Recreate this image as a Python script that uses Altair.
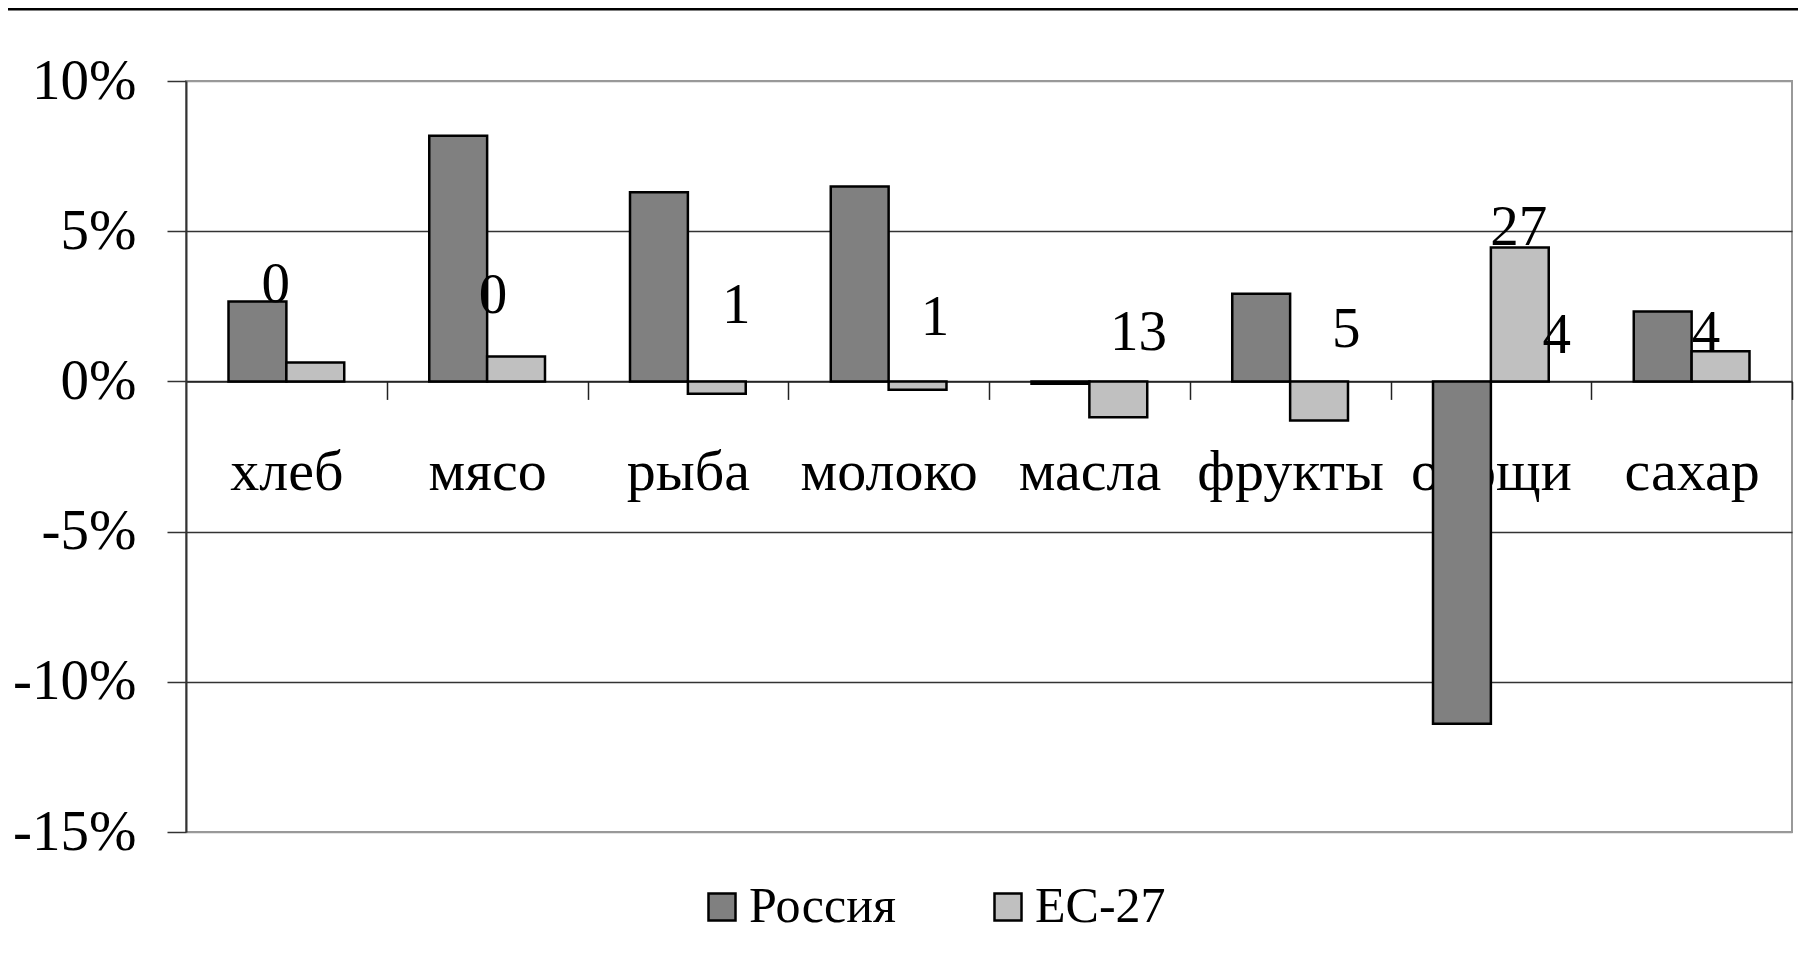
import altair as alt
import pandas as pd

# ---- data ----
categories = ["хлеб", "мясо", "рыба", "молоко", "масла", "фрукты", "овощи", "сахар"]
series = ["Россия", "ЕС-27"]
russia = [2.66, 8.18, 6.30, 6.49, -0.08, 2.92, -11.40, 2.33]
eu = [0.63, 0.83, -0.41, -0.28, -1.19, -1.30, 4.46, 1.00]

label_cats = ["хлеб", "мясо", "рыба", "молоко", "масла", "фрукты", "овощи", "овощи", "сахар"]
label_texts = ["0", "0", "1", "1", "13", "5", "27", "4", "4"]
label_y = [3.22, 2.85, 2.50, 2.11, 1.61, 1.72, 5.11, 1.50, 1.61]
label_shift = [-0.185, 0.10, 0.835, 0.80, 0.85, 0.97, 0.48, 1.14, 0.25]

y_ticks = [-15, -10, -5, 0, 5, 10]

# ---- tables ----
rows = []
for c, r, e in zip(categories, russia, eu):
    rows.append({"cat": c, "series": series[0], "value": r})
    rows.append({"cat": c, "series": series[1], "value": e})
bars_df = pd.DataFrame(rows)
labels_df = pd.DataFrame({"cat": label_cats, "label": label_texts,
                          "ypos": label_y, "shift": label_shift})

W, H = 1606, 751
FONT = "Liberation Serif"
STEP = W / len(categories)

x_scale = alt.Scale(domain=categories, paddingInner=0.4235, paddingOuter=0.21175)
y_scale = alt.Scale(domain=[-15, 10], nice=False, zero=False)

bars = alt.Chart(bars_df).mark_bar(stroke="black", strokeWidth=2.5, strokeJoin="miter").encode(
    x=alt.X("cat:N", scale=x_scale, sort=categories,
            axis=alt.Axis(title=None, orient="bottom", offset=-H * 15 / 25,
                          labelFont=FONT, labelFontSize=58, labelColor="black",
                          labelAngle=0, labelPadding=44, labelLimit=0, labelOverlap=False,
                          tickOffset=STEP / 2, labelOffset=-STEP / 2,
                          tickSize=18, tickColor="#222", tickWidth=1.5,
                          domainColor="#222", domainWidth=1.5, grid=False)),
    xOffset=alt.XOffset("series:N", sort=series,
                        scale=alt.Scale(domain=series, paddingInner=0, paddingOuter=0)),
    y=alt.Y("value:Q", scale=y_scale,
            axis=alt.Axis(title=None, values=y_ticks, labelExpr="datum.value + '%'",
                          labelFont=FONT, labelFontSize=57, labelColor="black",
                          labelPadding=31, tickSize=19, tickColor="#333", tickWidth=1.5,
                          domainColor="#333", domainWidth=2,
                          grid=True, gridWidth=1.5,
                          gridColor=alt.condition("datum.value == 10 || datum.value == -15",
                                                  alt.value("#999999"), alt.value("#333333")))),
    color=alt.Color("series:N", scale=alt.Scale(domain=series, range=["#808080", "#C0C0C0"]),
                    legend=alt.Legend(title=None, orient="none", legendX=511, legendY=801,
                                      direction="horizontal", symbolType="square",
                                      symbolSize=729, symbolStrokeColor="black",
                                      symbolStrokeWidth=2.5, labelFont=FONT, labelFontSize=50,
                                      labelColor="black", labelOffset=2, columnPadding=87,
                                      padding=0)),
)

texts = alt.Chart(labels_df).mark_text(font=FONT, fontSize=57, color="black",
                                       baseline="middle", align="center").encode(
    x=alt.X("cat:N", scale=x_scale, sort=categories),
    xOffset=alt.XOffset("shift:Q", scale=alt.Scale(domain=[-1, 1])),
    y=alt.Y("ypos:Q", scale=y_scale),
    text="label:N",
)

topline = alt.Chart(pd.DataFrame({"d": [0]})).mark_rule(color="black", strokeWidth=3).encode(
    x=alt.value(-178), x2=alt.value(W + 6), y=alt.value(-72)
)

chart = alt.layer(bars, texts, topline).resolve_scale(xOffset="independent").properties(
    width=W, height=H,
    autosize=alt.AutoSizeParams(type="none"),
    padding={"left": 178, "top": 73, "right": 6, "bottom": 125},
).configure_view(stroke="#999999", strokeWidth=2)

chart.save("out.html", embed_options={"renderer": "svg", "actions": False})
